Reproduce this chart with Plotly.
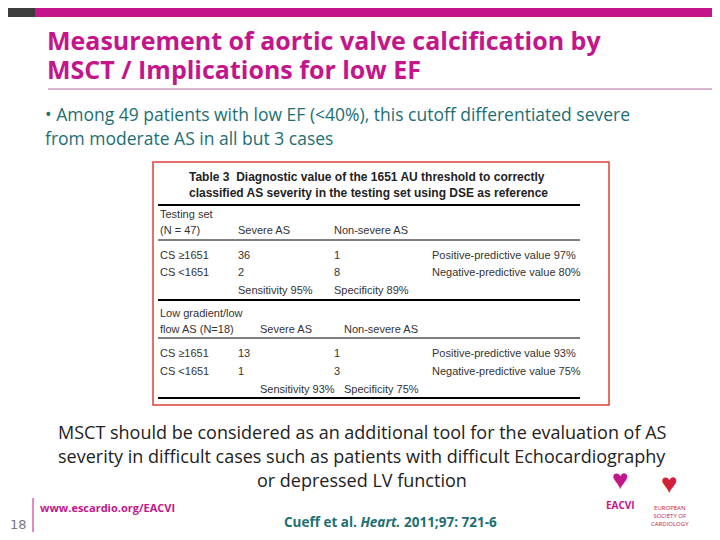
import plotly.graph_objects as go

title_lines = ["Measurement of aortic valve calcification by", "MSCT / Implications for low EF"]
bullet_lines = ["• Among 49 patients with low EF (<40%), this cutoff differentiated severe",
                "from moderate AS in all but 3 cases"]
caption_lines = ["MSCT should be considered as an additional tool for the evaluation of AS",
                 "severity in difficult cases such as patients with difficult Echocardiography",
                 "or depressed LV function"]

# table rows: (y, col1, col2, col3, col4)
table_rows = [
    (214, "Testing set", "", "", ""),
    (230, "(N = 47)", "Severe AS", "Non-severe AS", ""),
    (255, "CS ≥1651", "36", "1", "Positive-predictive value 97%"),
    (272, "CS <1651", "2", "8", "Negative-predictive value 80%"),
    (290, "", "Sensitivity 95%", "Specificity 89%", ""),
    (313, "Low gradient/low", "", "", ""),
    (329, "flow AS (N=18)", "Severe AS", "Non-severe AS", ""),
    (353, "CS ≥1651", "13", "1", "Positive-predictive value 93%"),
    (371, "CS <1651", "1", "3", "Negative-predictive value 75%"),
    (389, "", "Sensitivity 93%", "Specificity 75%", ""),
]
col_x = [158, 236, 332, 430]

MAG = "#C4168A"
TEAL = "#1C6F73"
F = "Open Sans"

fig = go.Figure()
fig.add_trace(go.Scatter(x=[8, 712], y=[8, 532], mode="markers", marker=dict(opacity=0), hoverinfo="skip"))

shapes = [
    dict(type="rect", x0=0, x1=35, y0=0, y1=17, fillcolor="#3C3C3C", line_width=0),
    dict(type="rect", x0=35, x1=720, y0=0, y1=17, fillcolor=MAG, line_width=0),
    dict(type="line", x0=48, x1=720, y0=89, y1=89, line=dict(color="#B06AA0", width=1)),
    dict(type="rect", x0=153, x1=609, y0=162, y1=405, fillcolor="white", line=dict(color="#E0403A", width=1.5)),
    dict(type="line", x0=158, x1=580, y0=205, y1=205, line=dict(color="black", width=2)),
    dict(type="line", x0=158, x1=580, y0=240, y1=240, line=dict(color="black", width=1)),
    dict(type="line", x0=158, x1=580, y0=300, y1=300, line=dict(color="black", width=2)),
    dict(type="line", x0=158, x1=580, y0=338, y1=338, line=dict(color="black", width=1)),
    dict(type="line", x0=158, x1=580, y0=398, y1=398, line=dict(color="black", width=2)),
    dict(type="line", x0=33, x1=33, y0=498, y1=540, line=dict(color=MAG, width=1)),
]

ann = []
for i, t in enumerate(title_lines):
    ann.append(dict(x=45, y=40 + i * 29, text="<b>" + t + "</b>", xanchor="left", yanchor="middle",
                    font=dict(family=F, size=25, color=MAG), showarrow=False))
for i, t in enumerate(bullet_lines):
    ann.append(dict(x=43, y=114 + i * 24, text=t, xanchor="left", yanchor="middle",
                    font=dict(family=F, size=17.5, color=TEAL), showarrow=False))
ann.append(dict(x=187, y=177, text="<b>Table 3  Diagnostic value of the 1651 AU threshold to correctly</b>",
                xanchor="left", yanchor="middle", font=dict(family="Liberation Sans", size=12, color="#222"), showarrow=False))
ann.append(dict(x=187, y=193, text="<b>classified AS severity in the testing set using DSE as reference</b>",
                xanchor="left", yanchor="middle", font=dict(family="Liberation Sans", size=12, color="#222"), showarrow=False))
for y, *cols in table_rows:
    for j, t in enumerate(cols):
        if t:
            x = col_x[j]
            if y > 300 and j in (1, 2) and not t[0].isdigit():
                x += 22 if j == 1 else 10
            ann.append(dict(x=x, y=y, text=t, xanchor="left", yanchor="middle",
                            font=dict(family="Liberation Sans", size=11, color="#333"), showarrow=False))
for i, t in enumerate(caption_lines):
    ann.append(dict(x=362, y=432 + i * 24, text=t, xanchor="center", yanchor="middle",
                    font=dict(family=F, size=18, color="#222"), showarrow=False))
ann += [
    dict(x=38, y=507, text="<b>www.escardio.org/EACVI</b>", xanchor="left", yanchor="middle",
         font=dict(family=F, size=11, color=MAG), showarrow=False),
    dict(x=18, y=524, text="18", xanchor="center", yanchor="middle",
         font=dict(family="DejaVu Sans", size=13, color="#777"), showarrow=False),
    dict(x=390, y=522, text="<b>Cueff et al. <i>Heart.</i> 2011;97: 721-6</b>", xanchor="center", yanchor="middle",
         font=dict(family=F, size=13.5, color=TEAL), showarrow=False),
    dict(x=620, y=478, text="♥", font=dict(size=28, color="#C4168A"), showarrow=False),
    dict(x=669, y=482, text="♥", font=dict(size=28, color="#D0203A"), showarrow=False),
    dict(x=620, y=505, text="<b>EACVI</b>", font=dict(size=10, color=MAG, family=F), showarrow=False),
    dict(x=670, y=516, text="EUROPEAN<br>SOCIETY OF<br>CARDIOLOGY", font=dict(size=6, color="#C0203A"), showarrow=False),
]

fig.update_layout(
    width=704, height=524, margin=dict(l=0, r=0, t=0, b=0),
    plot_bgcolor="white", paper_bgcolor="white", showlegend=False,
    xaxis=dict(range=[8, 712], visible=False, fixedrange=True),
    yaxis=dict(range=[532, 8], visible=False, fixedrange=True),
    shapes=shapes, annotations=ann,
)
fig.write_html("out.html")
